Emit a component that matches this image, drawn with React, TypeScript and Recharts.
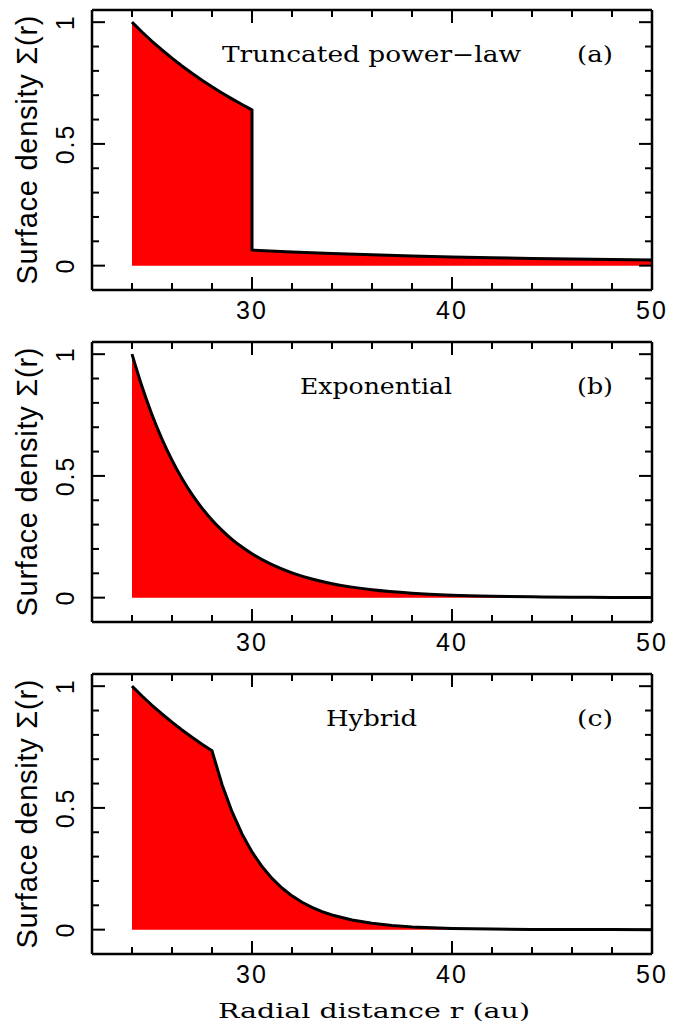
import React from "react";
import {
  Area,
  ComposedChart,
  Customized,
  Line,
  XAxis,
  YAxis,
} from "recharts";

// radius (au) and normalised surface density for each panel
const radiusA = [24, 24.5, 25, 25.5, 26, 26.5, 27, 27.5, 28, 28.5, 29, 29.5, 30, 30, 32, 34, 36, 38, 40, 42, 44, 46, 48, 50];
const sigmaA = [1.0, 0.9596, 0.9216, 0.8858, 0.8521, 0.8202, 0.7901, 0.7617, 0.7347, 0.7091, 0.6849, 0.6619, 0.64, 0.064, 0.0563, 0.0498, 0.0444, 0.0399, 0.036, 0.0327, 0.0298, 0.0272, 0.025, 0.023];

const radiusB = [24, 24.5, 25, 25.5, 26, 26.5, 27, 27.5, 28, 28.5, 29, 29.5, 30, 31, 32, 33, 34, 35, 36, 38, 40, 42, 44, 46, 48, 50];
const sigmaB = [1.0, 0.8669, 0.7515, 0.6514, 0.5647, 0.4895, 0.4244, 0.3679, 0.3189, 0.2765, 0.2397, 0.2077, 0.1801, 0.1353, 0.1017, 0.0764, 0.0574, 0.0432, 0.0324, 0.0183, 0.0103, 0.0058, 0.0033, 0.0019, 0.001, 0.0006];

const radiusC = [24, 24.5, 25, 25.5, 26, 26.5, 27, 27.5, 28, 28.5, 29, 29.5, 30, 30.5, 31, 31.5, 32, 32.5, 33, 33.5, 34, 35, 36, 37, 38, 40, 42, 44, 46, 48, 50];
const sigmaC = [1.0, 0.9596, 0.9216, 0.8858, 0.8521, 0.8202, 0.7901, 0.7617, 0.7347, 0.5965, 0.4843, 0.3933, 0.3193, 0.2593, 0.2105, 0.1709, 0.1388, 0.1127, 0.0915, 0.0743, 0.0603, 0.0398, 0.0262, 0.0173, 0.0114, 0.005, 0.0022, 0.0009, 0.0004, 0.0002, 0.0001];

const xTicks = [24, 26, 28, 30, 32, 34, 36, 38, 40, 42, 44, 46, 48, 50];
const xMajor = [30, 40, 50];
const yTicks = [0, 0.1, 0.2, 0.3, 0.4, 0.5, 0.6, 0.7, 0.8, 0.9, 1];
const yMajor = [0, 0.5, 1];

const panels = [
  { title: "Truncated power\u2212law", tag: "(a)", titleX: 222, titleW: 299, curve: "linear", radius: radiusA, sigma: sigmaA },
  { title: "Exponential", tag: "(b)", titleX: 300, titleW: 152, curve: "monotoneX", radius: radiusB, sigma: sigmaB },
  { title: "Hybrid", tag: "(c)", titleX: 326, titleW: 91, curve: "linear", radius: radiusC, sigma: sigmaC },
];

const SANS = "Liberation Sans, Arial, sans-serif";
const SERIF = "DejaVu Serif, serif";
const MAJOR_LEN = 13;
const MINOR_LEN = 7;

const BottomTick = (props: any) => {
  const { x, y, payload } = props;
  const major = xMajor.includes(payload.value);
  return (
    <g>
      <line x1={x} x2={x} y1={y} y2={y - (major ? MAJOR_LEN : MINOR_LEN)} stroke="#000" strokeWidth={2} />
      {major && (
        <text x={x} y={y + 29} textAnchor="middle" fontFamily={SANS} fontSize={25} letterSpacing={2} fill="#000">
          {payload.value}
        </text>
      )}
    </g>
  );
};

const TopTick = (props: any) => {
  const { x, y, payload } = props;
  const major = xMajor.includes(payload.value);
  return <line x1={x} x2={x} y1={y} y2={y + (major ? MAJOR_LEN : MINOR_LEN)} stroke="#000" strokeWidth={2} />;
};

const LeftTick = (props: any) => {
  const { x, y, payload } = props;
  const major = yMajor.includes(payload.value);
  return (
    <g>
      <line x1={x} x2={x + (major ? MAJOR_LEN : MINOR_LEN)} y1={y} y2={y} stroke="#000" strokeWidth={2} />
      {major && (
        <text
          x={x - 18}
          y={y}
          transform={`rotate(-90, ${x - 18}, ${y})`}
          textAnchor="middle"
          fontFamily={SANS}
          fontSize={25}
          letterSpacing={2}
          fill="#000"
        >
          {payload.value}
        </text>
      )}
    </g>
  );
};

const RightTick = (props: any) => {
  const { x, y, payload } = props;
  const major = yMajor.includes(payload.value);
  return <line x1={x} x2={x - (major ? MAJOR_LEN : MINOR_LEN)} y1={y} y2={y} stroke="#000" strokeWidth={2} />;
};

const PanelText = ({ title, tag, titleX, titleW, last }: any) => (
  <g fill="#000">
    <text x={titleX} y={62} fontFamily={SERIF} fontSize={22} textLength={titleW} lengthAdjust="spacingAndGlyphs">
      {title}
    </text>
    <text x={577} y={62} fontFamily={SERIF} fontSize={22} textLength={36} lengthAdjust="spacingAndGlyphs">
      {tag}
    </text>
    <text
      x={37}
      y={150}
      transform="rotate(-90, 37, 150)"
      textAnchor="middle"
      fontFamily={SANS}
      fontSize={29}
      textLength={269}
      lengthAdjust="spacing"
    >
      Surface density Σ(r)
    </text>
    {last && (
      <text x={218} y={354} fontFamily={SERIF} fontSize={21} textLength={312} lengthAdjust="spacingAndGlyphs">
        Radial distance r (au)
      </text>
    )}
  </g>
);

const Panel = ({ panel, last }: { panel: (typeof panels)[number]; last: boolean }) => {
  const data = panel.radius.map((r, i) => ({ r, sigma: panel.sigma[i] }));
  const height = last ? 363 : 332;
  const curve = panel.curve as any;
  return (
    <ComposedChart width={685} height={height} data={data} margin={{ top: 0, right: 0, bottom: 0, left: 0 }}>
      <XAxis
        xAxisId="b"
        dataKey="r"
        type="number"
        domain={[22, 50]}
        ticks={xTicks}
        interval={0}
        allowDataOverflow
        height={height - 290}
        tickSize={0}
        tickMargin={0}
        tickLine={false}
        axisLine={{ stroke: "#000", strokeWidth: 2.5 }}
        tick={<BottomTick />}
      />
      <XAxis
        xAxisId="t"
        orientation="top"
        dataKey="r"
        type="number"
        domain={[22, 50]}
        ticks={xTicks}
        interval={0}
        allowDataOverflow
        height={10}
        tickSize={0}
        tickMargin={0}
        tickLine={false}
        axisLine={{ stroke: "#000", strokeWidth: 2.5 }}
        tick={<TopTick />}
      />
      <YAxis
        yAxisId="l"
        type="number"
        domain={[-0.1, 1.05]}
        ticks={yTicks}
        interval={0}
        allowDataOverflow
        width={92}
        tickSize={0}
        tickMargin={0}
        tickLine={false}
        axisLine={{ stroke: "#000", strokeWidth: 2.5 }}
        tick={<LeftTick />}
      />
      <YAxis
        yAxisId="r"
        orientation="right"
        type="number"
        domain={[-0.1, 1.05]}
        ticks={yTicks}
        interval={0}
        allowDataOverflow
        width={33}
        tickSize={0}
        tickMargin={0}
        tickLine={false}
        axisLine={{ stroke: "#000", strokeWidth: 2.5 }}
        tick={<RightTick />}
      />
      <Area
        xAxisId="b"
        yAxisId="l"
        type={curve}
        dataKey="sigma"
        baseValue={0}
        fill="#ff0000"
        fillOpacity={1}
        stroke="#ff0000"
        strokeWidth={1.5}
        isAnimationActive={false}
      />
      <Line
        xAxisId="b"
        yAxisId="l"
        type={curve}
        dataKey="sigma"
        stroke="#000"
        strokeWidth={3}
        strokeLinejoin="round"
        dot={false}
        activeDot={false}
        isAnimationActive={false}
      />
      <Customized
        component={
          <PanelText title={panel.title} tag={panel.tag} titleX={panel.titleX} titleW={panel.titleW} last={last} />
        }
      />
    </ComposedChart>
  );
};

export default function App() {
  return (
    <div style={{ position: "absolute", left: 0, top: 0, width: 685, height: 1027, background: "#fff" }}>
      {panels.map((p, i) => (
        <Panel key={p.tag} panel={p} last={i === panels.length - 1} />
      ))}
    </div>
  );
}
